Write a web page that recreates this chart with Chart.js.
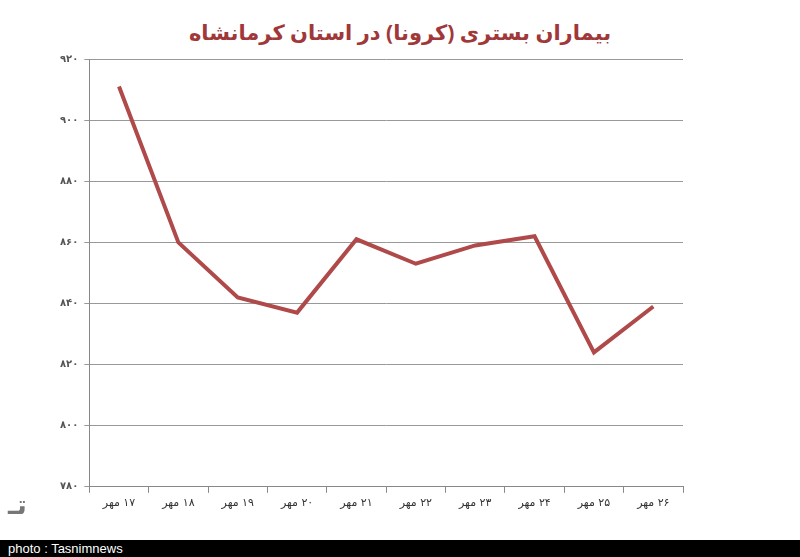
<!DOCTYPE html>
<html><head><meta charset="utf-8">
<script src="https://cdn.jsdelivr.net/npm/chart.js@4"></script>
<style>
body{margin:0;width:800px;height:557px;background:#fff;position:relative;overflow:hidden;font-family:"DejaVu Sans",sans-serif}
#t{position:absolute;top:18px;left:0;width:800px;text-align:center;direction:rtl;color:#a0383a;font-weight:bold;font-size:21px;font-family:"Noto Sans","DejaVu Sans",sans-serif}
#w{position:absolute;left:0;top:47px;width:700px;height:467px}
canvas{direction:rtl}
#b{position:absolute;left:0;top:540px;width:800px;height:17px;background:#000;color:#fff;font-family:"Liberation Sans",Arial;font-size:13px;line-height:17px;padding-left:8px;box-sizing:border-box}
#logo{position:absolute;left:8px;top:490px;color:#777;font-size:26px;font-weight:bold}
</style></head><body>
<div id="t">بیماران بستری (کرونا) در استان کرمانشاه</div>
<div id="w"><canvas id="c"></canvas></div>
<div id="logo">تـ</div>
<div id="b">photo : Tasnimnews</div>
<script>
const categories=["۱۷ مهر","۱۸ مهر","۱۹ مهر","۲۰ مهر","۲۱ مهر","۲۲ مهر","۲۳ مهر","۲۴ مهر","۲۵ مهر","۲۶ مهر"];
const values=[911,860,842,837,861,853,859,862,824,839];
const yMin=780,yMax=920,yStep=20;
const fa=n=>String(n).replace(/\d/g,d=>"۰۱۲۳۴۵۶۷۸۹"[d]);
new Chart(document.getElementById('c'),{type:'line',
data:{labels:categories,datasets:[{data:values,borderColor:'#b04a4a',borderWidth:4,pointRadius:0,tension:0,fill:false}]},
options:{responsive:true,maintainAspectRatio:false,animation:false,
layout:{padding:{left:54,top:0,right:17,bottom:0}},
plugins:{legend:{display:false},tooltip:{enabled:false}},
scales:{
x:{offset:true,grid:{display:true,drawOnChartArea:false,offset:true,color:'#888',tickLength:6},border:{color:'#888'},
ticks:{color:'#333',font:{size:11,family:'DejaVu Sans'},padding:4,maxRotation:0}},
y:{min:yMin,max:yMax,ticks:{stepSize:yStep,callback:v=>fa(v),color:'#555',font:{size:10,family:'DejaVu Sans',weight:'bold'},padding:6},
grid:{color:'#999',tickLength:5},border:{color:'#888'}}}}});
</script></body></html>
